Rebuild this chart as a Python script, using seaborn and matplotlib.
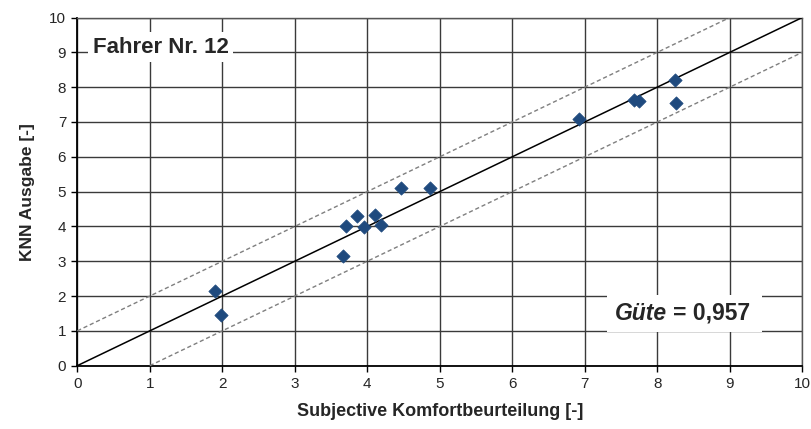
import matplotlib
matplotlib.use("Agg")
import matplotlib.pyplot as plt
import seaborn as sns
import pandas as pd
from matplotlib.patches import Rectangle

# Data
subjective = [1.90, 1.98, 3.67, 3.70, 3.86, 3.96, 4.10, 4.19, 4.46, 4.86,
              6.92, 7.68, 7.75, 8.25, 8.26]
knn_output = [2.15, 1.46, 3.15, 4.02, 4.30, 3.99, 4.33, 4.05, 5.11, 5.11,
              7.08, 7.63, 7.59, 8.20, 7.55]
ticks = list(range(0, 11))
ideal_x = [0, 10]
band_offset = 1
title_text = "Fahrer Nr. 12"
quality_label = "Güte"
quality_value = "= 0,957"

sns.set_theme(style="white")
plt.rcParams['font.family'] = ['Liberation Sans', 'DejaVu Sans']

fig = plt.figure(figsize=(8.11, 4.29), dpi=100)
ax = fig.add_axes([0.0953, 0.1476, 0.8940, 0.8116])

df = pd.DataFrame({"x": subjective, "y": knn_output})

# reference lines
ideal = pd.DataFrame({"x": ideal_x, "y": ideal_x})
upper = pd.DataFrame({"x": [0, 10 - band_offset], "y": [band_offset, 10]})
lower = pd.DataFrame({"x": [band_offset, 10], "y": [0, 10 - band_offset]})
sns.lineplot(data=ideal, x="x", y="y", ax=ax, color="black", linewidth=1.1, zorder=3)
sns.lineplot(data=upper, x="x", y="y", ax=ax, color="#7f7f7f", linewidth=1.0,
             linestyle=(0, (3, 2)), zorder=3)
sns.lineplot(data=lower, x="x", y="y", ax=ax, color="#7f7f7f", linewidth=1.0,
             linestyle=(0, (3, 2)), zorder=3)

sns.scatterplot(data=df, x="x", y="y", ax=ax, marker="D", s=46,
                color="#1f4a7e", edgecolor="#1f4a7e", linewidth=0.5, zorder=4)

ax.set_xlim(0, 10)
ax.set_ylim(0, 10)
ax.set_xticks(ticks)
ax.set_yticks(ticks)
ax.grid(True, color="#3a3a3a", linewidth=1.0)
ax.set_axisbelow(True)
for s in ax.spines.values():
    s.set_color("#555555")
    s.set_linewidth(1.0)
ax.spines["left"].set_color("black")
ax.spines["bottom"].set_color("black")
ax.spines["left"].set_linewidth(1.3)
ax.spines["bottom"].set_linewidth(1.3)
ax.tick_params(axis="both", direction="out", length=4, width=1, color="black",
               labelsize=11, pad=4, bottom=True, left=True)

ax.set_xlabel("Subjective Komfortbeurteilung [-]", fontsize=13, fontweight="bold", labelpad=9)
ax.set_ylabel("KNN Ausgabe [-]", fontsize=12.5, fontweight="bold", labelpad=10)

ax.text(0.21, 9.15, title_text, fontsize=16, fontweight="bold", ha="left", va="center",
        zorder=5, bbox=dict(facecolor="white", edgecolor="none", pad=3))

ax.add_patch(Rectangle((7.31, 0.98), 2.14, 1.05, facecolor="white", edgecolor="none", zorder=5))
ax.text(7.42, 1.51, quality_label, fontsize=16.5, fontweight="bold", style="italic",
        ha="left", va="center", zorder=6)
ax.text(8.21, 1.51, quality_value, fontsize=16.5, fontweight="bold",
        ha="left", va="center", zorder=6)

fig.savefig("out.png", dpi=100)
